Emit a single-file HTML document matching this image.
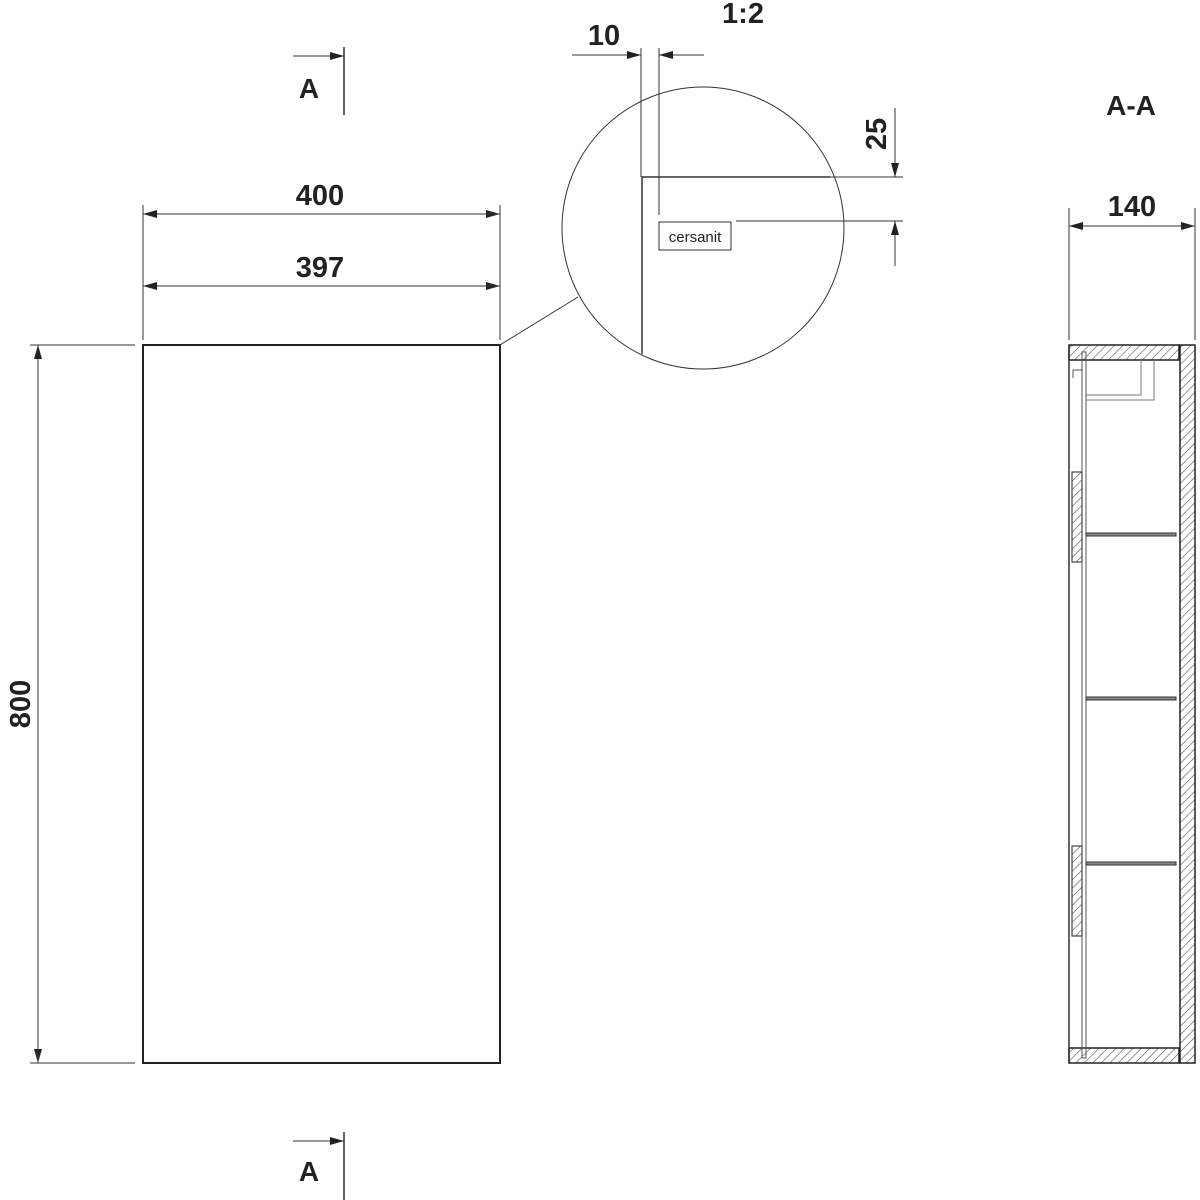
<!DOCTYPE html>
<html><head><meta charset="utf-8"><style>
html,body{margin:0;padding:0;background:#fff;}
svg{display:block;}
text{font-family:"Liberation Sans",sans-serif;font-weight:bold;fill:#222;}
</style></head><body>
<svg width="1200" height="1200" viewBox="0 0 1200 1200" xmlns="http://www.w3.org/2000/svg">
<defs>
<marker id="ar" markerWidth="14" markerHeight="8" refX="14" refY="4" orient="auto" markerUnits="userSpaceOnUse">
<path d="M0,0 L14,4 L0,8 Z" fill="#222"/></marker>
<pattern id="h" width="6" height="6" patternUnits="userSpaceOnUse" patternTransform="rotate(45)">
<rect width="6" height="6" fill="#fff"/><line x1="0" y1="0" x2="0" y2="6" stroke="#555" stroke-width="1.2"/></pattern>
</defs>
<g stroke="#333" fill="none" stroke-width="1">
<!-- front view -->
<rect x="143" y="345" width="357" height="718" stroke="#222" stroke-width="2"/>
<line x1="143" y1="205" x2="143" y2="340"/><line x1="500" y1="205" x2="500" y2="340"/>
<line x1="143" y1="214" x2="500" y2="214" marker-end="url(#ar)"/>
<line x1="500" y1="214" x2="143" y2="214" marker-end="url(#ar)"/>
<line x1="143" y1="286" x2="500" y2="286" marker-end="url(#ar)"/>
<line x1="500" y1="286" x2="143" y2="286" marker-end="url(#ar)"/>
<line x1="30" y1="345" x2="135" y2="345"/><line x1="30" y1="1063" x2="135" y2="1063"/>
<line x1="38" y1="345" x2="38" y2="1063" marker-end="url(#ar)"/>
<line x1="38" y1="1063" x2="38" y2="345" marker-end="url(#ar)"/>
<!-- section markers -->
<line x1="344" y1="47" x2="344" y2="115" stroke-width="1.5"/>
<line x1="293" y1="56" x2="344" y2="56" marker-end="url(#ar)"/>
<line x1="344" y1="1132" x2="344" y2="1200" stroke-width="1.5"/>
<line x1="293" y1="1141" x2="344" y2="1141" marker-end="url(#ar)"/>
<!-- detail circle -->
<line x1="500" y1="345" x2="578" y2="297"/>
<circle cx="703" cy="228" r="141"/>
<path d="M642,354 L642,177 L830,177" stroke-width="1.5"/>
<line x1="830" y1="177" x2="903" y2="177"/>
<line x1="736" y1="221" x2="903" y2="221"/>
<line x1="641" y1="48" x2="641" y2="177"/>
<line x1="659" y1="48" x2="659" y2="215"/>
<line x1="572" y1="55" x2="641" y2="55" marker-end="url(#ar)"/>
<line x1="704" y1="55" x2="659" y2="55" marker-end="url(#ar)"/>
<line x1="895" y1="108" x2="895" y2="177" marker-end="url(#ar)"/>
<line x1="895" y1="266" x2="895" y2="221" marker-end="url(#ar)"/>
<rect x="659" y="222" width="72" height="28"/>
<!-- section A-A -->
<line x1="1069" y1="208" x2="1069" y2="340"/><line x1="1195" y1="208" x2="1195" y2="340"/>
<line x1="1069" y1="226" x2="1195" y2="226" marker-end="url(#ar)"/>
<line x1="1195" y1="226" x2="1069" y2="226" marker-end="url(#ar)"/>
<rect x="1069" y="345" width="110" height="15" fill="url(#h)" stroke="#222" stroke-width="1.5"/>
<rect x="1069" y="1048" width="110" height="15" fill="url(#h)" stroke="#222" stroke-width="1.5"/>
<rect x="1180" y="345" width="15" height="718" fill="url(#h)" stroke="#222" stroke-width="1.5"/>
<line x1="1069" y1="345" x2="1069" y2="1063" stroke-width="1.5"/>
<rect x="1082" y="352" width="4" height="706" stroke="#555"/>
<rect x="1072" y="472" width="10" height="90" fill="url(#h)" stroke="#222"/>
<rect x="1072" y="846" width="10" height="90" fill="url(#h)" stroke="#222"/>
<rect x="1086" y="533" width="90" height="3" fill="#888"/>
<rect x="1086" y="697" width="90" height="3" fill="#888"/>
<rect x="1086" y="862" width="90" height="3" fill="#888"/>
<path d="M1086,395 L1141,395 L1141,360" stroke="#777"/>
<path d="M1086,400 L1154,400 L1154,360" stroke="#777"/>
<path d="M1073,378 L1073,370 L1083,370" stroke="#555"/>
</g>
<text x="309" y="98" font-size="28" text-anchor="middle">A</text>
<text x="309" y="1181" font-size="28" text-anchor="middle">A</text>
<text x="320" y="205" font-size="29" text-anchor="middle">400</text>
<text x="320" y="277" font-size="29" text-anchor="middle">397</text>
<text transform="translate(30,704) rotate(-90)" font-size="29" text-anchor="middle">800</text>
<text x="604" y="45" font-size="29" text-anchor="middle">10</text>
<text x="743" y="23" font-size="29" text-anchor="middle">1:2</text>
<text transform="translate(886,134) rotate(-90)" font-size="29" text-anchor="middle">25</text>
<text x="695" y="242" font-size="15" text-anchor="middle" style="font-weight:normal">cersanit</text>
<text x="1131" y="115" font-size="28" text-anchor="middle">A-A</text>
<text x="1132" y="216" font-size="29" text-anchor="middle">140</text>
</svg>
</body></html>
